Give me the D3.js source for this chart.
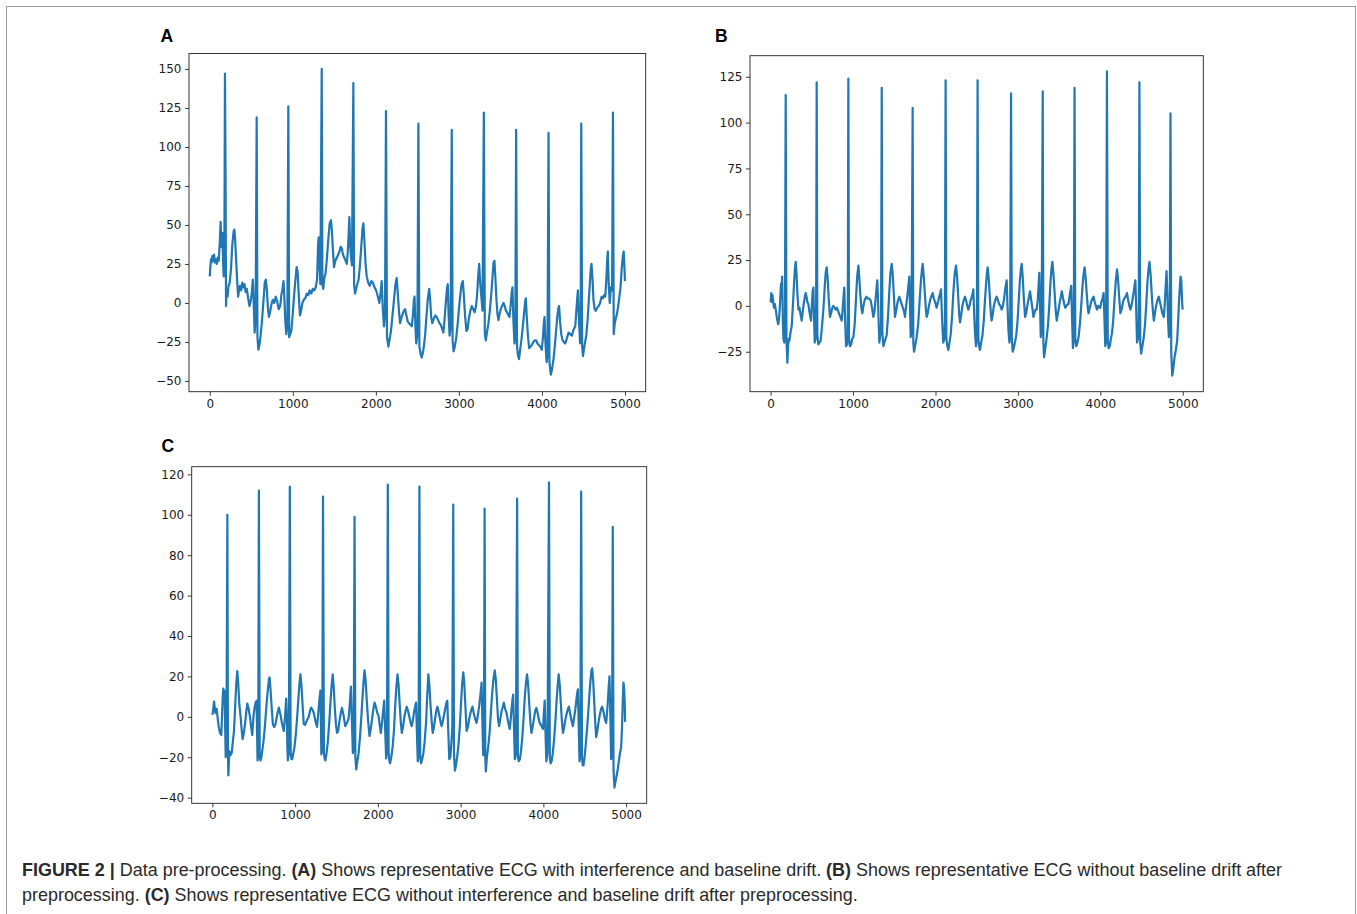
<!DOCTYPE html>
<html><head><meta charset="utf-8">
<script src="https://cdn.jsdelivr.net/npm/d3@7"></script>
<style>body{margin:0;background:#fff} svg{display:block}</style>
</head><body>
<svg id="fig" width="1357" height="914"></svg>
<script>
// ---------- data ----------
const xTicks = [0, 1000, 2000, 3000, 4000, 5000];
const yTicksA = [-50, -25, 0, 25, 50, 75, 100, 125, 150];
const yTicksB = [-25, 0, 25, 50, 75, 100, 125];
const yTicksC = [-40, -20, 0, 20, 40, 60, 80, 100, 120];
const panelLabels = ["A", "B", "C"];

// Panel A: ECG with interference and baseline drift  [sample, amplitude]
const ecgA = [[0,17],[6,22],[14,28],[22,26],[30,30],[40,27],[52,31],[62,26],[72,28],[84,25],[96,29],[108,27],[120,38],[131,52],[138,36],[146,42],[152,45],[160,26],[168,17],[176,30],[183,147],[190,84],[196,-2],[204,8],[214,4],[226,11],[240,13],[256,22],[272,38],[288,46],[296,47],[306,40],[318,27],[330,14],[342,4],[352,8],[364,11],[378,8],[392,13],[404,10],[418,12],[432,7],[446,9],[462,3],[478,-2],[492,1],[505,6],[518,15],[528,2],[540,-19],[552,-10],[565,119],[574,-22],[586,-30],[598,-27],[612,-21],[628,-12],[645,0],[662,13],[675,15],[688,8],[700,-3],[712,-9],[726,-6],[742,-1],[758,2],[776,0],[794,4],[812,1],[830,-4],[848,-2],[862,5],[876,9],[888,14],[898,4],[910,-12],[922,-20],[934,-15],[946,126],[956,-22],[968,-20],[982,-18],[998,-8],[1014,4],[1030,14],[1046,23],[1058,20],[1072,5],[1086,-8],[1100,-5],[1116,0],[1132,2],[1150,3],[1168,6],[1186,5],[1204,8],[1222,6],[1240,9],[1258,8],[1276,10],[1292,15],[1305,38],[1312,42],[1320,25],[1332,12],[1348,150],[1356,12],[1366,9],[1380,16],[1394,19],[1410,28],[1426,40],[1444,51],[1460,53],[1472,45],[1484,33],[1496,23],[1512,27],[1529,29],[1546,31],[1562,33],[1576,36],[1590,35],[1604,31],[1620,29],[1636,27],[1650,25],[1662,33],[1672,44],[1681,55],[1690,38],[1700,30],[1712,24],[1729,141],[1738,12],[1749,6],[1762,9],[1776,12],[1792,15],[1808,24],[1824,36],[1840,48],[1850,51],[1862,40],[1876,25],[1890,17],[1908,13],[1926,11],[1946,14],[1964,13],[1984,10],[2004,8],[2024,4],[2042,0],[2058,7],[2070,14],[2084,-4],[2098,-15],[2110,-8],[2122,123],[2134,-22],[2151,-28],[2166,-23],[2182,-18],[2200,-8],[2218,2],[2236,12],[2251,16],[2264,6],[2278,-5],[2291,-13],[2306,-10],[2322,-7],[2338,-5],[2352,-4],[2368,-8],[2384,-12],[2400,-13],[2416,-14],[2432,-15],[2446,-8],[2458,2],[2466,4],[2476,-15],[2486,-26],[2500,-20],[2512,115],[2524,-28],[2540,-33],[2552,-35],[2566,-32],[2580,-27],[2594,-20],[2610,-8],[2626,3],[2642,9],[2654,2],[2666,-9],[2680,-13],[2698,-10],[2716,-8],[2733,-9],[2750,-11],[2766,-13],[2782,-14],[2800,-17],[2813,-19],[2828,-10],[2846,3],[2858,10],[2866,12],[2876,-8],[2888,-21],[2900,-15],[2914,111],[2924,-24],[2936,-31],[2950,-28],[2966,-23],[2984,-14],[3000,-4],[3016,5],[3032,12],[3047,14],[3060,4],[3074,-8],[3090,-18],[3104,-17],[3120,-10],[3138,-5],[3155,-2],[3172,-4],[3190,-6],[3206,-2],[3220,6],[3232,17],[3244,25],[3256,13],[3270,4],[3284,-5],[3300,122],[3312,-20],[3324,-24],[3340,-18],[3356,-13],[3372,-5],[3390,6],[3406,18],[3418,26],[3428,27],[3440,15],[3452,2],[3464,-7],[3476,-11],[3490,-7],[3504,-4],[3520,-2],[3537,0],[3552,-2],[3566,-5],[3580,-6],[3596,-8],[3609,-9],[3622,-2],[3636,7],[3645,10],[3655,-10],[3669,-26],[3679,-22],[3689,111],[3700,-28],[3712,-34],[3724,-36],[3737,-30],[3752,-24],[3768,-16],[3784,-7],[3798,1],[3806,3],[3818,-10],[3832,-22],[3846,-29],[3862,-28],[3878,-27],[3896,-25],[3912,-24],[3930,-24],[3946,-26],[3962,-27],[3980,-28],[3998,-30],[4012,-22],[4024,-12],[4031,-9],[4042,-26],[4056,-38],[4066,-34],[4079,109],[4090,-38],[4100,-43],[4107,-46],[4122,-42],[4139,-36],[4154,-28],[4170,-18],[4186,-8],[4198,-3],[4206,-2],[4218,-12],[4232,-20],[4248,-24],[4264,-25],[4280,-26],[4298,-23],[4320,-19],[4340,-20],[4360,-21],[4380,-17],[4401,-15],[4414,-5],[4426,4],[4433,8],[4445,-10],[4459,-26],[4466,-20],[4473,115],[4484,-28],[4494,-34],[4510,-28],[4533,-21],[4548,-12],[4562,0],[4576,12],[4588,22],[4596,25],[4608,16],[4620,2],[4634,-4],[4648,-5],[4665,-3],[4682,-2],[4700,0],[4718,4],[4734,3],[4748,5],[4762,4],[4774,14],[4786,28],[4793,33],[4804,12],[4816,0],[4830,10],[4844,8],[4855,122],[4864,-20],[4874,-14],[4888,-10],[4903,-7],[4918,-2],[4932,4],[4946,10],[4960,22],[4974,30],[4984,33],[4992,24],[4999,14]];

// Panel B: ECG without baseline drift
const ecgB = [[0,2],[8,7],[14,2],[22,6],[30,3],[41,-1],[52,1],[66,-3],[74,-6],[82,-8],[92,-10],[100,-8],[110,-2],[118,5],[126,12],[132,8],[140,16],[148,-8],[156,-18],[166,-20],[174,-5],[183,115],[192,-18],[198,-25],[203,-31],[212,-22],[220,-18],[227,-19],[240,-15],[256,-11],[270,0],[284,12],[296,21],[304,24],[314,18],[326,6],[338,-2],[350,-1],[364,-5],[377,-8],[390,-3],[404,2],[416,5],[425,7],[436,5],[446,2],[458,1],[470,-3],[482,-6],[490,-8],[500,0],[510,8],[519,10],[526,-5],[535,-20],[545,-18],[552,-5],[559,122],[567,-16],[579,-21],[592,-20],[607,-19],[622,-12],[640,-2],[656,10],[668,18],[680,21],[692,15],[706,3],[720,-6],[734,-4],[748,-1],[761,0],[776,-1],[790,-2],[804,-1],[814,-2],[828,-4],[846,-6],[862,-8],[872,-3],[884,5],[894,10],[904,-8],[915,-22],[928,-21],[936,-15],[943,124],[951,-18],[963,-22],[976,-21],[990,-18],[1004,-17],[1020,-10],[1036,4],[1050,16],[1065,22],[1076,15],[1090,5],[1104,-2],[1113,-4],[1126,0],[1140,3],[1161,5],[1178,4],[1196,4],[1214,3],[1230,-1],[1246,-6],[1260,-3],[1274,4],[1286,10],[1294,14],[1302,5],[1310,-8],[1319,-20],[1330,-16],[1340,-10],[1348,119],[1356,-15],[1368,-22],[1380,-20],[1394,-18],[1408,-16],[1424,-6],[1440,8],[1454,18],[1469,23],[1482,17],[1496,5],[1509,-6],[1522,-3],[1540,2],[1561,5],[1576,3],[1590,1],[1604,-1],[1618,-3],[1630,-6],[1644,0],[1660,6],[1674,12],[1683,16],[1691,0],[1699,-17],[1710,-14],[1723,108],[1731,-20],[1740,-25],[1756,-21],[1772,-17],[1790,-10],[1808,3],[1824,14],[1836,20],[1845,23],[1858,16],[1872,6],[1884,-2],[1893,-6],[1906,-4],[1920,0],[1940,4],[1956,6],[1966,7],[1980,4],[1996,2],[2014,-1],[2030,2],[2046,5],[2058,7],[2067,9],[2076,-2],[2085,-12],[2095,-20],[2106,-18],[2114,-10],[2123,123],[2132,-18],[2144,-22],[2156,-24],[2170,-20],[2186,-15],[2202,-5],[2218,8],[2234,18],[2249,22],[2262,16],[2276,5],[2288,-5],[2298,-9],[2312,-5],[2326,0],[2342,3],[2358,5],[2372,3],[2386,0],[2398,-2],[2412,0],[2426,3],[2442,5],[2452,7],[2459,9],[2470,-5],[2480,-15],[2491,-22],[2502,-18],[2511,123],[2520,-18],[2530,-22],[2540,-24],[2554,-20],[2570,-16],[2586,-8],[2600,3],[2614,12],[2624,18],[2633,21],[2646,15],[2660,4],[2672,-4],[2681,-8],[2694,-5],[2708,0],[2724,3],[2742,5],[2758,3],[2772,1],[2788,0],[2803,-2],[2818,0],[2832,4],[2846,9],[2856,12],[2864,14],[2874,0],[2886,-14],[2897,-20],[2906,-15],[2917,116],[2926,-18],[2937,-25],[2950,-23],[2964,-20],[2980,-16],[2996,-8],[3010,3],[3024,14],[3036,20],[3046,23],[3058,16],[3072,4],[3087,-6],[3100,-4],[3114,0],[3130,4],[3147,8],[3162,3],[3178,-2],[3188,-6],[3200,-4],[3214,-2],[3228,-2],[3240,3],[3252,12],[3260,18],[3268,2],[3277,-17],[3288,-14],[3301,117],[3309,-20],[3317,-28],[3330,-24],[3350,-17],[3366,-10],[3380,0],[3394,12],[3406,20],[3418,24],[3430,18],[3444,8],[3458,-2],[3471,-8],[3486,-4],[3500,0],[3516,4],[3533,8],[3548,4],[3562,1],[3574,-1],[3590,0],[3604,1],[3614,1],[3626,5],[3640,9],[3647,11],[3656,-5],[3667,-23],[3678,-18],[3687,119],[3696,-18],[3708,-22],[3722,-20],[3736,-17],[3752,-10],[3768,0],[3782,10],[3796,17],[3809,21],[3822,15],[3836,6],[3848,-1],[3857,-4],[3872,-1],[3888,2],[3904,4],[3918,5],[3932,2],[3946,0],[3959,-2],[3974,0],[3988,-1],[3999,-1],[4012,2],[4026,4],[4040,7],[4050,-8],[4060,-22],[4070,-20],[4080,128],[4090,-18],[4101,-23],[4114,-22],[4128,-18],[4141,-15],[4156,-8],[4172,4],[4186,13],[4202,20],[4214,15],[4228,5],[4243,-4],[4258,-2],[4274,2],[4290,4],[4306,5],[4324,7],[4338,3],[4352,0],[4364,-2],[4378,0],[4392,4],[4406,8],[4418,12],[4425,14],[4434,0],[4445,-20],[4456,-18],[4466,-10],[4474,122],[4484,-20],[4495,-26],[4510,-22],[4527,-17],[4542,-10],[4556,0],[4570,12],[4584,20],[4596,24],[4610,17],[4624,6],[4638,-3],[4649,-8],[4662,-4],[4676,0],[4692,3],[4709,5],[4724,2],[4738,-1],[4752,-4],[4770,-6],[4780,0],[4792,10],[4803,19],[4812,8],[4822,-8],[4831,-17],[4842,-12],[4851,105],[4860,-25],[4872,-38],[4886,-34],[4900,-28],[4916,-24],[4932,-19],[4944,-8],[4954,2],[4964,10],[4973,16],[4982,14],[4993,1],[4999,-2]];

// Panel C: ECG without interference and baseline drift
const ecgC = [[0,1],[8,3],[20,7.6],[36,2],[52,4],[62,0],[72,-3.6],[82,-6],[92,-8],[108,-9],[118,2],[126,11],[133,14],[140,10],[146,13],[152,0],[161,-20],[170,-15],[181,100],[188,-15],[193,-29],[205,-17],[218,-19],[233,-18],[248,-12],[261,-7],[275,5],[288,16],[301,22.6],[312,17],[326,6],[341,0],[353,-6],[365,-11],[380,-8],[394,-3.6],[408,2],[422,6.6],[438,4],[454,0],[468,-5],[482,-9],[496,0],[510,4.6],[522,7],[534,8],[540,-8],[546,-21.6],[554,-18],[562,112],[572,-20],[582,-21.6],[592,-20],[602,-17],[618,-12],[636,-4],[654,6],[672,14],[684,19],[691,19.5],[702,14],[716,5],[731,-3.6],[747,-5],[763,-3.6],[783,1],[803,4.6],[823,1],[843,-3.6],[863,-7],[878,0],[892,9],[900,0],[906,-15],[912,-21.6],[924,-18],[936,114],[946,-18],[956,-21],[964,-21],[978,-18],[992,-15],[1010,-8],[1028,2],[1046,13],[1058,19],[1064,21],[1076,16],[1090,6],[1104,-3.6],[1120,-4],[1140,-2],[1165,0],[1180,3],[1193,4.6],[1210,3.5],[1225,2],[1245,-2],[1265,-5],[1280,2],[1295,9],[1305,13],[1311,0],[1317,-18.6],[1328,-16],[1337,109],[1348,-18],[1358,-21],[1365,-21.6],[1380,-18],[1396,-12],[1412,-3],[1428,8],[1442,16],[1454,21],[1466,15],[1480,4],[1494,-4],[1506,-8],[1520,-7],[1536,-2],[1552,2],[1566,4.4],[1584,1],[1606,-4.6],[1626,-3],[1646,-1],[1660,6],[1674,15],[1686,-2],[1698,-18],[1708,-14],[1718,99],[1728,-20],[1739,-26],[1752,-22],[1767,-18],[1784,-10],[1800,0],[1815,10],[1828,18],[1839,23],[1852,18],[1866,8],[1882,-2],[1899,-9.5],[1914,-6],[1930,-1],[1946,4],[1960,7],[1976,5],[1992,2],[2008,0.5],[2022,-4],[2036,-8],[2050,-3],[2064,3],[2076,8],[2088,-6],[2100,-20.6],[2110,-16],[2120,115],[2130,-18],[2140,-22],[2148,-23],[2162,-20],[2178,-15],[2194,-7],[2208,4],[2222,14],[2237,21],[2250,16],[2264,6],[2276,-2],[2289,-8],[2304,-5],[2320,0],[2335,3],[2349,5],[2364,3],[2380,0],[2396,-3],[2409,-4.6],[2422,-2],[2436,2],[2450,5],[2461,7],[2472,-8],[2482,-22],[2492,-18],[2502,114],[2512,-20],[2522,-23],[2536,-21],[2550,-18],[2566,-12],[2582,-3],[2596,10],[2610,21],[2622,16],[2636,6],[2650,-2],[2663,-8],[2678,-5],[2692,-1],[2706,3],[2719,5],[2732,3],[2746,0],[2760,-3],[2771,-4.6],[2786,-2],[2800,1],[2814,4],[2828,7],[2839,8],[2850,-6],[2863,-21],[2876,-20],[2890,-12],[2900,-5],[2911,105],[2920,-18],[2931,-26.6],[2944,-24],[2958,-20],[2974,-14],[2990,-5],[3004,6],[3018,16],[3032,22],[3044,17],[3058,5],[3072,-7],[3088,-5],[3104,-1],[3120,2],[3134,4],[3144,5],[3158,2],[3176,-1],[3193,-3],[3210,1],[3226,6],[3240,11],[3253,17],[3262,0],[3273,-19],[3282,-14],[3290,103],[3298,-20],[3305,-27],[3318,-20],[3333,-15],[3350,-8],[3366,2],[3382,12],[3398,19],[3413,23],[3426,18],[3440,8],[3452,-1],[3465,-4.6],[3480,-1],[3496,3],[3510,5],[3522,7],[3538,4],[3554,2],[3568,-1],[3582,-4],[3594,-6],[3606,-1],[3618,5],[3628,9],[3635,11],[3645,-5],[3655,-21],[3668,-18],[3683,108],[3692,-20],[3703,-22],[3716,-21],[3730,-17],[3746,-10],[3762,0],[3776,10],[3790,17],[3803,21],[3816,16],[3830,6],[3844,-3],[3856,-8],[3870,-5],[3886,-1],[3902,3],[3916,4.4],[3930,2],[3944,-1],[3956,-3],[3970,-4],[3984,-5],[3996,-6],[4006,2],[4016,8],[4026,-8],[4036,-22],[4050,-18],[4068,116],[4078,-20],[4088,-23],[4100,-22],[4114,-18],[4130,-11],[4146,-2],[4160,8],[4172,15],[4185,21],[4198,16],[4212,6],[4224,-2],[4237,-8],[4252,-5],[4268,-1],[4284,2],[4298,4],[4309,5],[4322,2],[4336,-1],[4348,-3],[4357,-4.6],[4370,-1],[4384,3],[4398,8],[4410,12],[4417,13.6],[4427,-4],[4437,-22],[4447,-18],[4457,111.5],[4467,-20],[4476,-24],[4485,-24],[4498,-20],[4512,-14],[4528,-6],[4544,3],[4558,12],[4572,19],[4582,23],[4590,24],[4602,18],[4614,8],[4626,-2],[4638,-10],[4652,-7],[4666,-3],[4682,1],[4698,4],[4711,5],[4724,3],[4738,0],[4750,-2],[4759,-3],[4770,2],[4780,8],[4790,15],[4799,20],[4808,5],[4819,-21],[4830,-16],[4839,94],[4848,-26],[4859,-35],[4872,-32],[4886,-29],[4899,-26],[4912,-22],[4926,-18],[4940,-15],[4950,-6],[4960,8],[4968,17],[4976,14],[4984,6],[4988,-2.5]];

const captionLine1 = [
  {t: "FIGURE 2 | ", b: true}, {t: "Data pre-processing. ", b: false},
  {t: "(A)", b: true}, {t: " Shows representative ECG with interference and baseline drift. ", b: false},
  {t: "(B)", b: true}, {t: " Shows representative ECG without baseline drift after", b: false}
];
const captionLine2 = [
  {t: "preprocessing. ", b: false}, {t: "(C)", b: true},
  {t: " Shows representative ECG without interference and baseline drift after preprocessing.", b: false}
];

// ---------- layout ----------
const svg = d3.select("#fig");
const lineColor = "#1f77b4";
const xDomain = [-250, 5249];

const panels = [
  {label: panelLabels[0], data: ecgA, yTicks: yTicksA, yDomain: [-56.9, 159.9], box: {l: 189, t: 53.5, r: 645.7, b: 391.7}, lab: [160.5, 41.7]},
  {label: panelLabels[1], data: ecgB, yTicks: yTicksB, yDomain: [-46.8, 136.5], box: {l: 750, t: 55.7, r: 1203.3, b: 391.7}, lab: [715, 41.7]},
  {label: panelLabels[2], data: ecgC, yTicks: yTicksC, yDomain: [-42.8, 123.8], box: {l: 191.7, t: 466.7, r: 646.7, b: 803.3}, lab: [161.5, 451.7]}
];

// outer frame
svg.append("rect").attr("x", 6.5).attr("y", 6.5).attr("width", 1349).attr("height", 930)
  .attr("fill", "none").attr("stroke", "#9a9a9a").attr("stroke-width", 1);

const fmt = d => (d < 0 ? "\u2212" + Math.abs(d) : String(d));

panels.forEach(p => {
  const x = d3.scaleLinear().domain(xDomain).range([p.box.l, p.box.r]);
  const y = d3.scaleLinear().domain(p.yDomain).range([p.box.b, p.box.t]);
  const g = svg.append("g");

  const xAxis = d3.axisBottom(x).tickValues(xTicks).tickFormat(fmt).tickSize(4).tickPadding(3.5);
  const yAxis = d3.axisLeft(y).tickValues(p.yTicks).tickFormat(fmt).tickSize(4).tickPadding(3.5);

  const gx = g.append("g").attr("transform", `translate(0,${p.box.b})`).call(xAxis);
  const gy = g.append("g").attr("transform", `translate(${p.box.l},0)`).call(yAxis);
  [gx, gy].forEach(a => {
    a.select(".domain").remove();
    a.selectAll(".tick line").attr("stroke", "#222").attr("stroke-width", 0.9);
    a.selectAll(".tick text").attr("fill", "#1a1a1a")
      .style("font-family", "'DejaVu Sans', sans-serif").style("font-size", "12px");
  });

  const line = d3.line().x(d => x(d[0])).y(d => y(d[1]));
  g.append("path").datum(p.data).attr("d", line)
    .attr("fill", "none").attr("stroke", lineColor).attr("stroke-width", 2.2)
    .attr("stroke-linejoin", "round").attr("stroke-linecap", "butt");

  g.append("rect").attr("x", p.box.l).attr("y", p.box.t)
    .attr("width", p.box.r - p.box.l).attr("height", p.box.b - p.box.t)
    .attr("fill", "none").attr("stroke", "#222").attr("stroke-width", 0.9);

  svg.append("text").attr("x", p.lab[0]).attr("y", p.lab[1]).text(p.label)
    .style("font-family", "'Liberation Sans', Arial, sans-serif").style("font-weight", "bold")
    .style("font-size", "17.5px").attr("fill", "#000");
});

// caption
function caption(parts, yBase, targetRight) {
  const t = svg.append("text").attr("x", 0).attr("y", 0)
    .style("font-family", "'Liberation Sans', Arial, sans-serif").style("font-size", "17.5px")
    .attr("fill", "#2a2a2a");
  parts.forEach(s => t.append("tspan").text(s.t).style("font-weight", s.b ? "bold" : "normal"));
  const w = t.node().getComputedTextLength();
  const sx = (targetRight - 22) / w;
  t.attr("transform", `translate(22,${yBase}) scale(${sx},1)`);
}
caption(captionLine1, 875.5, 1283);
caption(captionLine2, 900.5, 858);
</script>
</body></html>
